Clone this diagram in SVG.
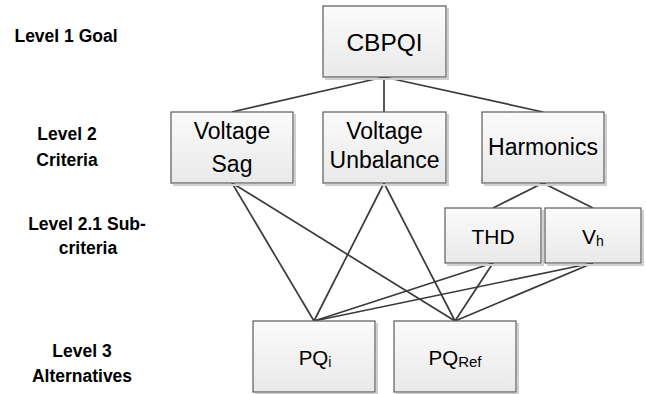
<svg xmlns="http://www.w3.org/2000/svg" width="646" height="394" viewBox="0 0 646 394">
<defs>
<linearGradient id="g" x1="0" y1="0" x2="0" y2="1">
<stop offset="0" stop-color="#fbfbfb"/>
<stop offset="1" stop-color="#e9e9e9"/>
</linearGradient>
</defs>
<style>
.lbl{font-family:"Liberation Sans",Arial,sans-serif;font-weight:bold;font-size:17.5px;fill:#000;text-anchor:middle}
.box{fill:url(#g);stroke:#5a5a5a;stroke-width:1.2}
.sh{fill:none;stroke:#cfcfcf;stroke-width:2}
.t{font-family:"Liberation Sans",Arial,sans-serif;fill:#000;text-anchor:middle}
.con{stroke:#3a3a3a;stroke-width:1.7;fill:none}
</style>
<rect width="646" height="394" fill="#fff"/>
<g id="labels">
<text class="lbl" x="66" y="42">Level 1 Goal</text>
<text class="lbl" x="67" y="140">Level 2</text>
<text class="lbl" x="67" y="166">Criteria</text>
<text class="lbl" x="87" y="230">Level 2.1 Sub-</text>
<text class="lbl" x="88" y="254">criteria</text>
<text class="lbl" x="82" y="357">Level 3</text>
<text class="lbl" x="82" y="382">Alternatives</text>
</g>
<g id="connectors">
<line class="con" x1="384" y1="77" x2="232" y2="112"/>
<line class="con" x1="384" y1="77" x2="384" y2="112"/>
<line class="con" x1="384" y1="77" x2="543" y2="112"/>
<line class="con" x1="543" y1="183" x2="493" y2="208"/>
<line class="con" x1="543" y1="183" x2="593" y2="208"/>
<line class="con" x1="232" y1="183" x2="314" y2="321"/>
<line class="con" x1="232" y1="183" x2="455" y2="321"/>
<line class="con" x1="384" y1="183" x2="314" y2="321"/>
<line class="con" x1="384" y1="183" x2="455" y2="321"/>
<line class="con" x1="493" y1="263" x2="314" y2="321"/>
<line class="con" x1="493" y1="263" x2="455" y2="321"/>
<line class="con" x1="593" y1="263" x2="314" y2="321"/>
<line class="con" x1="593" y1="263" x2="455" y2="321"/>
</g>
<g id="n-cbpqi">
<path class="sh" d="M448 8 V79 H325"/>
<rect class="box" x="323" y="6" width="123" height="71"/>
<text class="t" x="384.5" y="51" font-size="24.5">CBPQI</text>
</g>
<g id="n-sag">
<path class="sh" d="M295 114 V185 H173"/>
<rect class="box" x="171" y="112" width="122" height="71"/>
<text class="t" x="232" y="139" font-size="23">Voltage</text>
<text class="t" x="232" y="172" font-size="23">Sag</text>
</g>
<g id="n-unbalance">
<path class="sh" d="M448 114 V185 H325"/>
<rect class="box" x="323" y="112" width="123" height="71"/>
<text class="t" x="384.5" y="139" font-size="23">Voltage</text>
<text class="t" x="384.5" y="168" font-size="23">Unbalance</text>
</g>
<g id="n-harmonics">
<path class="sh" d="M606 114 V185 H484"/>
<rect class="box" x="482" y="112" width="122" height="71"/>
<text class="t" x="543" y="155" font-size="23">Harmonics</text>
</g>
<g id="n-thd">
<path class="sh" d="M543 210 V265 H447"/>
<rect class="box" x="445" y="208" width="96" height="55"/>
<text class="t" x="493" y="244" font-size="21">THD</text>
</g>
<g id="n-vh">
<path class="sh" d="M643 210 V265 H547"/>
<rect class="box" x="545" y="208" width="96" height="55"/>
<text class="t" x="593" y="244" font-size="21">V<tspan font-size="14" dy="2">h</tspan></text>
</g>
<g id="n-pqi">
<path class="sh" d="M377 323 V394 H255"/>
<rect class="box" x="253" y="321" width="122" height="71"/>
<text class="t" x="315" y="365" font-size="20.5">PQ<tspan font-size="14" dy="2">i</tspan></text>
</g>
<g id="n-pqref">
<path class="sh" d="M518 323 V394 H396"/>
<rect class="box" x="394" y="321" width="122" height="71"/>
<text class="t" x="455" y="365" font-size="20.5">PQ<tspan font-size="15" dy="2">Ref</tspan></text>
</g>
</svg>
